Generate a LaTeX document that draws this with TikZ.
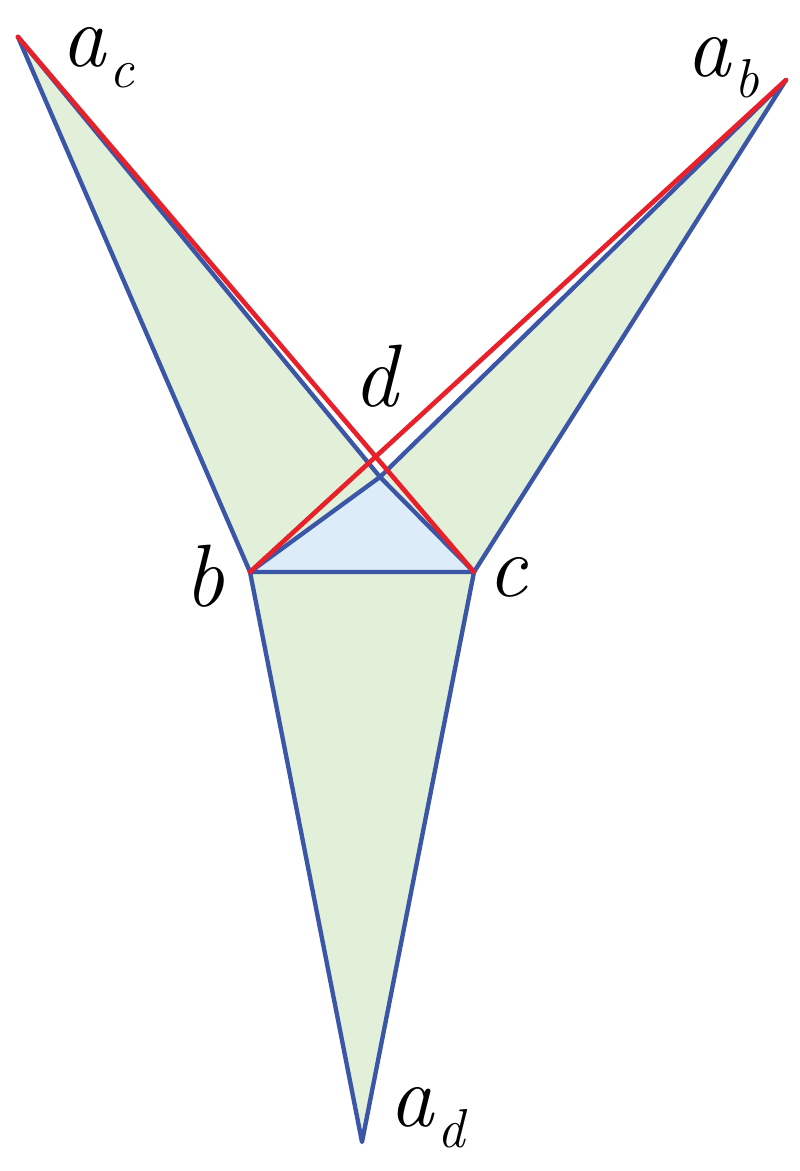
\documentclass[tikz,border=0pt]{standalone}
\definecolor{leafgreen}{HTML}{E2F0DA}
\definecolor{skyblue}{HTML}{DCEDF9}
\definecolor{edgeblue}{HTML}{3B56A6}
\definecolor{chordred}{HTML}{E8202A}
\newcommand{\vsub}[1]{\hspace{0.04em}\raisebox{-0.24em}{\fontsize{39}{41}\selectfont #1}}

\begin{document}
\begin{tikzpicture}[
  x=0.025cm, y=-0.025cm,
  edge/.style={draw=edgeblue, line width=3.1pt, line join=round, line cap=round},
  chord/.style={draw=chordred, line width=3.3pt, line cap=round},
  vlabel/.style={anchor=base west, inner sep=0pt, font=\fontsize{63}{65}\selectfont\itshape},
  ]
  \useasboundingbox (0,0) rectangle (800,1171);
  \coordinate (ac) at (18,37);
  \coordinate (ab) at (786,80);
  \coordinate (b) at (250,572);
  \coordinate (c) at (474,572);
  \coordinate (d) at (380,477);
  \coordinate (ad) at (362,1142);
  \fill[leafgreen] (ac) -- (b) -- (d) -- cycle;
  \fill[leafgreen] (ab) -- (d) -- (c) -- cycle;
  \fill[leafgreen] (b) -- (c) -- (ad) -- cycle;
  \fill[skyblue] (b) -- (c) -- (d) -- cycle;
  \draw[edge] (ac) -- (b) -- (ad) -- (c) -- (ab) -- (d) -- (b) -- (c);
  \draw[edge] (ac) -- (d) -- (c);
  \draw[chord] (ac) -- (c);
  \draw[chord] (ab) -- (b);
  \node[vlabel] (lac) at (61,66) {a\vsub{c}};
  \node[vlabel] (lab) at (686,76) {a\vsub{b}};
  \node[vlabel] (ld) at (353,406) {d};
  \node[vlabel] (lb) at (184,606) {b};
  \node[vlabel] (lc) at (487,596) {c};
  \node[vlabel] (lad) at (389,1126) {a\vsub{d}};
\end{tikzpicture}
\end{document}
